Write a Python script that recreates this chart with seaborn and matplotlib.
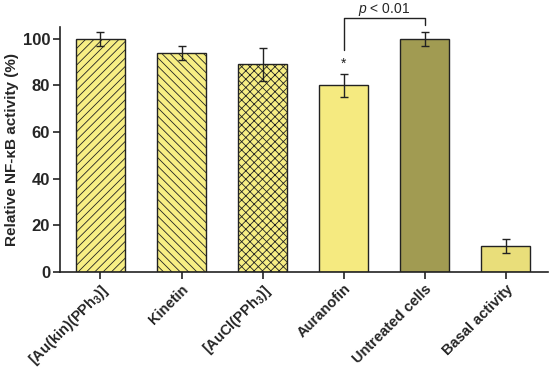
import matplotlib
matplotlib.use("Agg")
import matplotlib.pyplot as plt
import seaborn as sns
import pandas as pd

categories = ["[Au(kin)(PPh$_3$)]", "Kinetin", "[AuCl(PPh$_3$)]", "Auranofin", "Untreated cells", "Basal activity"]
values = [100, 94, 89, 80, 100, 11]
errors = [3, 3, 7, 5, 3, 3]
colors = ["#F7EE84", "#F7EE84", "#F7EE84", "#F5EA80", "#A19B52", "#E9DE7A"]
hatches = ["////", "\\\\\\\\", "xxxx", "", "", ""]
yticks = [0, 20, 40, 60, 80, 100]

sns.set_theme(style="ticks")
plt.rcParams['font.family'] = ['Liberation Sans', 'DejaVu Sans']
plt.rcParams['mathtext.fontset'] = 'custom'
plt.rcParams['mathtext.rm'] = 'Liberation Sans:bold'
plt.rcParams['mathtext.bf'] = 'Liberation Sans:bold'
plt.rcParams['mathtext.it'] = 'Liberation Sans:italic'
plt.rcParams['mathtext.default'] = 'bf'
plt.rcParams['hatch.linewidth'] = 0.6
plt.rcParams['hatch.color'] = '#555533'

df = pd.DataFrame({"cat": categories, "val": values})

fig = plt.figure(figsize=(5.5, 3.79), dpi=100)
ax = fig.add_axes([0.109, 0.282, 0.887, 0.647])
sns.barplot(data=df, x="cat", y="val", hue="cat", palette=colors, legend=False,
            saturation=1, width=0.6, edgecolor="#222222", linewidth=1.0, ax=ax, errorbar=None)
for patch, h in zip(ax.patches, hatches):
    patch.set_hatch(h)
ax.errorbar(range(len(values)), values, yerr=errors, fmt="none", ecolor="#222222",
            elinewidth=1.0, capsize=3, capthick=1.0)

ax.set_xlim(-0.5, 5.52)
ax.set_ylim(0, 105)
ax.set_yticks(yticks)
ax.set_yticklabels([str(t) for t in yticks], fontsize=12, fontweight="bold")
ax.set_xticks(range(len(categories)))
ax.set_xticklabels(categories, rotation=45, ha="right", rotation_mode="anchor",
                   fontsize=10.5, fontweight="bold")
ax.set_xlabel("")
ax.set_ylabel("Relative NF-κB activity (%)", fontsize=11, fontweight="bold", labelpad=3)
for s in ["top", "right"]:
    ax.spines[s].set_visible(False)
for s in ["left", "bottom"]:
    ax.spines[s].set_linewidth(1.2)
    ax.spines[s].set_color("#222222")
ax.tick_params(axis="both", direction="out", length=5, width=1.2, color="#222222", pad=2)

# significance annotation
x1, x2 = 3, 4
ax.plot([x1, x1, x2, x2], [95, 109, 109, 106], color="#222222", lw=1.0, clip_on=False)
ax.text((x1 + x2) / 2, 112.6, r"$\it{p}$ < 0.01", ha="center", va="center",
        fontsize=10, fontweight="normal", clip_on=False)
ax.text(x1, 89, "*", ha="center", va="center", fontsize=10, color="#222222")

fig.savefig("out.png", dpi=100)
